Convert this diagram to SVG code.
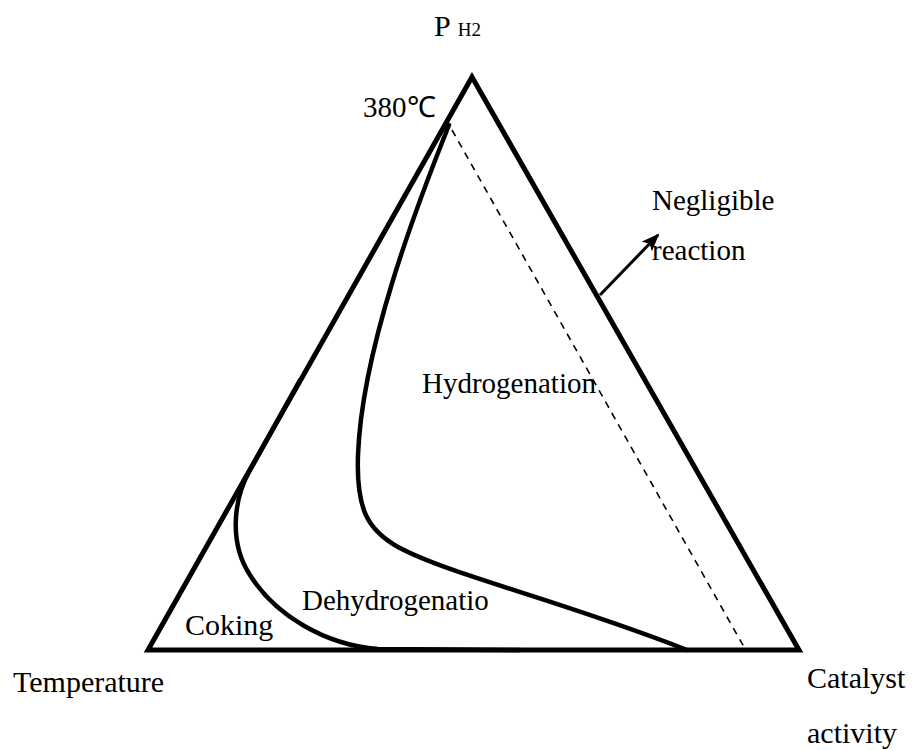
<svg xmlns="http://www.w3.org/2000/svg" width="916" height="750" viewBox="0 0 916 750">
<style>
text{font-family:"Liberation Serif","Times New Roman",serif;fill:#000}
.lbl{font-size:29px}
.big{font-size:30px}
.thick{fill:none;stroke:#000;stroke-width:5;stroke-linejoin:miter}
.curve{fill:none;stroke:#000;stroke-width:4.5;stroke-linecap:round}
.dash{fill:none;stroke:#000;stroke-width:1.6;stroke-dasharray:7,6}
</style>
<defs>
<marker id="ah" markerWidth="18" markerHeight="14" refX="16" refY="7" orient="auto" markerUnits="userSpaceOnUse" viewBox="0 0 18 14">
<path d="M0,0 L18,7 L0,14 L4,7 Z" fill="#000"/>
</marker>
</defs>
<rect width="916" height="750" fill="#fff"/>
<g id="triangle">
<polygon class="thick" points="472,77 148,650 799,650"/>
</g>
<g id="connectors">
<path id="outer-curve" class="curve" d="M300,380 L250,470 C232,502 230,545 250,575 C275,615 325,645 378,649 L520,650"/>
<path id="inner-curve" class="curve" d="M449,125 C415,210 362,350 358,455 C356,510 368,530 398,547 C450,575 560,600 687,650"/>
<line id="dashed" class="dash" x1="452" y1="130" x2="744" y2="647"/>
<line id="arrow" x1="600" y1="295" x2="658" y2="235" stroke="#000" stroke-width="3" marker-end="url(#ah)"/>
</g>
<g id="labels">
<text x="434" y="36" font-size="30">P<tspan dx="7" font-size="19">H2</tspan></text>
<text x="363" y="117" class="lbl">380℃</text>
<text x="652" y="210" class="lbl">Negligible</text>
<text x="652" y="260" class="lbl">reaction</text>
<text x="422" y="393" class="lbl">Hydrogenation</text>
<text x="302" y="610" class="lbl">Dehydrogenatio</text>
<text x="185" y="635" class="big">Coking</text>
<text x="13" y="692" class="big">Temperature</text>
<text x="807" y="688" class="big">Catalyst</text>
<text x="807" y="743" class="big">activity</text>
</g>
</svg>
